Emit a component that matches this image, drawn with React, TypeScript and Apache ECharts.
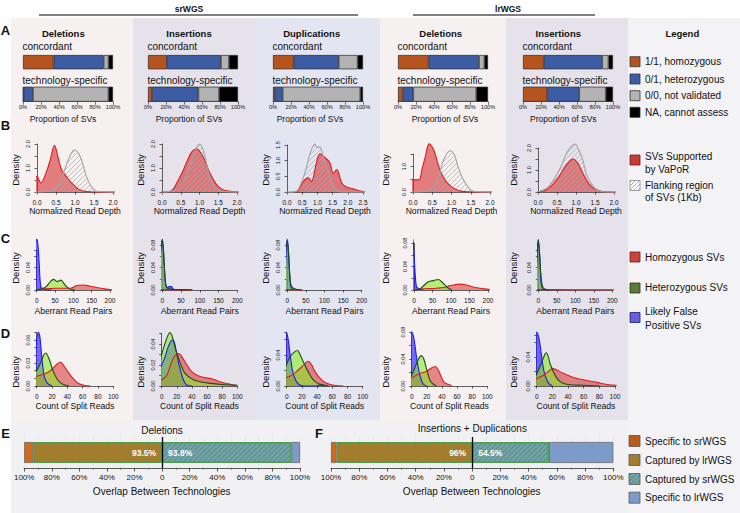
import React, { useEffect, useRef } from 'react';
import * as echarts from 'echarts';

const FONT = '"Liberation Sans", Arial, Helvetica, sans-serif';

// ---------------- Row A: genotype proportions (%) ----------------
const genotypeNames = ['1/1, homozygous', '0/1, heterozygous', '0/0, not validated', 'NA, cannot assess'];
const barCategories = ['concordant', 'technology-specific'];
const columnTitles = ['Deletions', 'Insertions', 'Duplications', 'Deletions', 'Insertions'];
const srDelConcordant = [34, 55.6, 5.4, 5];
const srDelSpecific = [0.5, 10.5, 84, 5];
const srInsConcordant = [21, 60, 9, 10];
const srInsSpecific = [4.4, 51.6, 23, 21];
const srDupConcordant = [23, 50, 21, 6];
const srDupSpecific = [2, 8.7, 86.3, 3];
const lrDelConcordant = [34, 56, 6, 4];
const lrDelSpecific = [5.5, 11.5, 70, 13];
const lrInsConcordant = [23, 65, 7, 5];
const lrInsSpecific = [27, 35.5, 29.5, 8];

// ---------------- Row B: normalized read depth densities ----------------
const bSrDelSupported = [[-0.1,0.2],[0,0.65],[0.1,0.38],[0.25,0.85],[0.35,1.35],[0.46,1.95],[0.56,1.4],[0.65,0.92],[0.78,0.63],[0.91,0.38],[1.09,0.12],[1.3,0.02],[1.6,0],[2.05,0]];
const bSrDelFlank = [[-0.1,0],[0.3,0.02],[0.5,0.15],[0.6,0.4],[0.7,0.8],[0.8,1.25],[0.9,1.6],[0.98,1.75],[1.1,1.6],[1.2,1.2],[1.3,0.65],[1.4,0.3],[1.5,0.1],[1.6,0.02],[2.05,0]];
const bSrInsSupported = [[-0.05,0],[0.2,0.02],[0.3,0.12],[0.39,0.36],[0.57,0.92],[0.7,1.4],[0.8,1.68],[0.92,1.8],[1.1,1.45],[1.28,0.78],[1.46,0.3],[1.6,0.12],[1.72,0.05],[2.05,0]];
const bSrInsFlank = [[-0.05,0],[0.3,0.05],[0.5,0.25],[0.7,0.9],[0.85,1.6],[1.0,2.0],[1.1,1.75],[1.2,1.1],[1.3,0.5],[1.4,0.2],[1.5,0.07],[1.65,0.02],[2.05,0]];
const bSrDupSupported = [[0.3,0],[0.37,0.03],[0.53,0.33],[0.7,0.45],[0.8,0.33],[0.97,0.93],[1.08,1.22],[1.25,1.1],[1.41,0.93],[1.52,0.6],[1.64,0.72],[1.8,0.29],[1.96,0.16],[2.17,0.1],[2.45,0.02],[2.6,0]];
const bSrDupFlank = [[-0.1,0],[0.3,0.02],[0.43,0.2],[0.6,0.65],[0.75,1.2],[0.92,1.53],[1.0,1.42],[1.08,1.44],[1.2,1.1],[1.3,0.8],[1.41,0.49],[1.52,0.2],[1.63,0.05],[1.8,0],[2.6,0]];
const bLrDelSupported = [[-0.07,0.48],[0.15,0.48],[0.23,0.87],[0.32,1.4],[0.42,1.9],[0.54,1.66],[0.67,1.0],[0.8,0.55],[0.97,0.24],[1.18,0.06],[1.4,0.01],[2.05,0]];
const bLrDelFlank = [[-0.07,0],[0.3,0.02],[0.5,0.15],[0.67,0.6],[0.75,1.08],[0.85,1.45],[0.97,1.63],[1.08,1.45],[1.18,0.95],[1.31,0.48],[1.48,0.1],[1.6,0.02],[2.05,0]];
const bLrInsSupported = [[-0.1,0],[0.07,0.02],[0.2,0.08],[0.33,0.24],[0.5,0.58],[0.75,1.23],[0.92,1.5],[1.05,1.3],[1.18,0.85],[1.36,0.32],[1.53,0.1],[1.7,0.02],[2.05,0]];
const bLrInsFlank = [[-0.1,0],[0.05,0.03],[0.25,0.2],[0.43,0.6],[0.6,1.15],[0.75,1.75],[0.84,2.0],[0.97,2.18],[1.08,1.9],[1.18,1.45],[1.3,0.7],[1.48,0.2],[1.65,0.02],[2.05,0]];

// ---------------- Row C: aberrant read pairs densities ----------------
const cSrDelHomo = [[-5,0],[0,0.001],[20,0.002],[50,0.003],[80,0.003],[95,0.0035],[109,0.008],[127,0.009],[145,0.0068],[164,0.0046],[186,0.002],[209,0]];
const cSrDelHet = [[-5,0],[8,0.001],[18,0.003],[26,0.006],[36,0.014],[46,0.019],[56,0.015],[66,0.0176],[77,0.009],[86,0.0034],[95,0.001],[104,0]];
const cSrDelFp = [[-10,0],[-8,0.03],[-5,0.07],[-2,0.088],[1,0.09],[4,0.075],[7,0.045],[9,0.02],[12,0.004],[16,0.003],[22,0.001],[40,0]];
const cSrInsHomo = [[-8,0],[0,0.001],[40,0.0005],[80,0]];
const cSrInsHet = [[-10,0],[-7,0.03],[-4,0.075],[0,0.09],[3,0.072],[6,0.035],[9,0.01],[14,0.003],[30,0.001],[78,0.0005],[80,0]];
const cSrInsFp = [[-10,0],[-7,0.03],[-4,0.07],[0,0.088],[3,0.07],[6,0.035],[9,0.01],[13,0.004],[18,0.006],[24,0.006],[28,0.003],[33,0]];
const cSrDupHomo = [[-8,0],[0,0.001],[20,0.0005],[40,0]];
const cSrDupHet = [[-10,0],[-7,0.03],[-4,0.072],[0,0.087],[3,0.07],[6,0.035],[9,0.012],[14,0.004],[25,0.001],[40,0]];
const cSrDupFp = [[-8,0],[-5,0.04],[-2,0.08],[0,0.09],[3,0.07],[6,0.03],[9,0.008],[14,0]];
const cLrDelHomo = [[-5,0],[10,0.001],[30,0.002],[60,0.003],[89,0.005],[93,0.007],[107,0.0085],[124,0.01],[142,0.0085],[160,0.005],[178,0.003],[201,0.001],[210,0]];
const cLrDelHet = [[5,0],[16,0.002],[25,0.0068],[39,0.014],[53,0.016],[66,0.018],[75,0.014],[89,0.005],[102,0]];
const cLrDelFp = [[-14,0],[-11,0.03],[-8,0.07],[-5,0.09],[-2,0.08],[1,0.05],[4,0.02],[7,0.005],[12,0.003],[16,0.002],[25,0]];
const cLrInsHomo = [[-8,0],[0,0.001],[100,0.0005],[210,0.0005]];
const cLrInsHet = [[-10,0],[-6,0.03],[-3,0.075],[0,0.09],[3,0.07],[6,0.035],[10,0.01],[14,0.003],[20,0.001],[30,0]];
const cLrInsFp = [[-8,0],[-4,0.05],[0,0.085],[3,0.07],[6,0.03],[10,0.005],[20,0.001],[30,0]];

// ---------------- Row D: split read count densities ----------------
const dSrDelHomo = [[-5,0.012],[5,0.014],[15,0.018],[22,0.024],[27,0.029],[31,0.031],[35,0.027],[39,0.021],[45.6,0.012],[54,0.0035],[62,0.001],[70,0]];
const dSrDelHet = [[-5,0.014],[0,0.02],[5,0.03],[9,0.04],[12,0.043],[15,0.038],[17.4,0.032],[21.7,0.019],[26,0.01],[30,0.005],[35,0.002],[42,0]];
const dSrDelFp = [[-5,0.01],[-2,0.04],[0,0.06],[2,0.07],[4,0.065],[6,0.045],[8,0.025],[10,0.012],[13,0.005],[16,0.002],[20,0]];
const dSrInsHomo = [[-8,0.003],[0,0.006],[6.6,0.01],[15,0.026],[22,0.031],[30.8,0.023],[39.7,0.0136],[50.7,0.009],[68,0.0065],[77,0.004],[95,0.001],[100,0]];
const dSrInsHet = [[-8,0.012],[-3,0.02],[0,0.03],[5,0.042],[11,0.051],[14,0.047],[17.6,0.037],[24,0.023],[30.8,0.012],[42,0.006],[60,0.003],[80,0.0015],[100,0.001]];
const dSrInsFp = [[-8,0.01],[-2,0.017],[4,0.027],[9,0.038],[14.5,0.044],[17,0.041],[20,0.03],[24,0.017],[28.6,0.006],[33,0.001],[40,0]];
const dSrDupHomo = [[-6,0.01],[5,0.013],[12,0.018],[20,0.025],[28.5,0.032],[33,0.027],[37,0.019],[44,0.01],[52.6,0.0035],[62,0.001],[74.5,0]];
const dSrDupHet = [[-6,0.012],[-2,0.023],[4.4,0.038],[10,0.044],[14,0.046],[18,0.04],[22,0.031],[28.5,0.018],[35,0.008],[42,0.003],[50,0.001],[55,0]];
const dSrDupFp = [[-6,0.01],[-4,0.035],[-2,0.06],[0,0.069],[2,0.06],[4,0.045],[6,0.03],[8,0.018],[12,0.007],[16,0.002],[22,0],[38,0],[44,0.0015],[50,0]];
const dLrDelHomo = [[-5,0.008],[0,0.012],[10,0.018],[20,0.022],[25,0.026],[31,0.029],[35,0.024],[40,0.011],[42,0.0065],[47,0.003],[50.7,0.0015],[53,0]];
const dLrDelHet = [[-5,0.008],[-2,0.012],[1.3,0.019],[6,0.032],[10,0.042],[13,0.045],[16,0.04],[20,0.024],[24,0.009],[28,0.003],[33,0]];
const dLrDelFp = [[-5,0.02],[-3,0.06],[0,0.08],[3,0.07],[6.6,0.041],[10,0.02],[13,0.008],[16,0.002],[20,0]];
const dLrInsHomo = [[-6,0.006],[0,0.01],[10,0.016],[16,0.021],[20.4,0.024],[26,0.022],[34,0.0175],[51,0.0106],[76.6,0.005],[90,0.002],[102,0.001]];
const dLrInsHet = [[-6,0.008],[-2,0.012],[4.3,0.027],[9,0.04],[12,0.046],[15,0.04],[17,0.031],[23.4,0.015],[29.8,0.006],[40,0.002],[60,0.001],[80,0]];
const dLrInsFp = [[-6,0.03],[-4.3,0.047],[-2,0.065],[0,0.074],[2,0.07],[4.3,0.057],[7.7,0.03],[10.6,0.015],[15,0.004],[20,0]];

// ---------------- Rows E/F: overlap between technologies (%) ----------------
const overlapNames = ['Specific to srWGS', 'Captured by lrWGS', 'Captured by srWGS', 'Specific to lrWGS'];
const deletionOverlap = [6.5, 93.5, 93.8, 6.2];
const insDupOverlap = [4, 96, 54.5, 45.5];

// ---------------- styles ----------------
const genotypeColors = ['#b5541f', '#3c5ca3', '#b3b3b3', '#000000'];
const curveStyles: any = {
  sv: { line: '#e01b1b', area: 'rgba(212,30,30,0.55)' },
  homo: { line: '#e01b1b', area: 'rgba(212,30,30,0.5)' },
  het: { line: '#1f4d10', area: 'rgba(140,235,40,0.6)' },
  fp: { line: '#1a1aff', area: 'rgba(40,20,255,0.62)' },
};

function hatch(bg: string | null, stripe: string, size: number, lw: number) {
  const c = document.createElement('canvas');
  c.width = size; c.height = size;
  const g = c.getContext('2d')!;
  if (bg) { g.fillStyle = bg; g.fillRect(0, 0, size, size); }
  g.strokeStyle = stripe; g.lineWidth = lw; g.lineCap = 'square';
  g.beginPath();
  g.moveTo(0, size); g.lineTo(size, 0);
  g.moveTo(-size / 2, size / 2); g.lineTo(size / 2, -size / 2);
  g.moveTo(size / 2, size * 1.5); g.lineTo(size * 1.5, size / 2);
  g.stroke();
  return { image: c, repeat: 'repeat', imageWidth: size, imageHeight: size };
}

function buildOption() {
  const grid: any[] = [], xAxis: any[] = [], yAxis: any[] = [], series: any[] = [], graphic: any[] = [];
  const addGrid = (g: any, xa: any, ya: any) => {
    const i = grid.length;
    grid.push(g);
    xAxis.push({ ...xa, gridIndex: i });
    yAxis.push({ ...ya, gridIndex: i });
    return i;
  };
  const txt = (text: string, x: number, y: number, size: number, o: any = {}) => graphic.push({
    type: 'text', x, y, z: 100, silent: true, rotation: o.rotation || 0,
    style: { text, fontSize: size, fontFamily: FONT, fontWeight: o.bold ? 'bold' : 'normal', fill: o.color || '#111', align: o.align || 'center', verticalAlign: 'middle' },
  });
  const rect = (x: number, y: number, w: number, h: number, fill: any, stroke?: string, z = -100) => graphic.push({
    type: 'rect', z, silent: true, shape: { x, y, width: w, height: h }, style: { fill, stroke: stroke || 'none', lineWidth: stroke ? 0.8 : 0 },
  });
  const line = (x1: number, y1: number, x2: number, y2: number) => graphic.push({
    type: 'line', z: 100, silent: true, shape: { x1, y1, x2, y2 }, style: { stroke: '#000', lineWidth: 1 },
  });

  const flankPattern = hatch(null, '#a9a9a9', 5, 0.7);
  const lrCapturedPattern = hatch('#d2691e', '#54a046', 5, 1.3);
  const srCapturedPattern = hatch('#7b9bc8', '#54a05a', 5, 1.3);
  const flankLegendPattern = hatch('#ffffff', '#9a9a9a', 4, 0.8);

  // ---- backgrounds ----
  rect(11, 18, 122, 402, '#f6f0f1');
  rect(133, 18, 123, 402, '#e5e2ec');
  rect(256, 18, 124, 402, '#e3e5f1');
  rect(380, 18, 126, 402, '#f6f0f1');
  rect(506, 18, 122, 402, '#e5e2ec');
  rect(628, 18, 112, 495, '#f3f3f6');
  rect(11, 420, 617, 93, '#f1f1f3');

  // ---- header ----
  txt('srWGS', 189, 8.5, 8.5, { bold: true });
  line(39, 15, 358, 15);
  txt('lrWGS', 508, 8.5, 8.5, { bold: true });
  line(413, 15, 595, 15);
  const titleX = [63.3, 189, 311.7, 440.7, 558.3];
  columnTitles.forEach((t, i) => txt(t, titleX[i], 33.3, 9.5, { bold: true }));
  txt('Legend', 682.3, 33.3, 9.5, { bold: true });
  [['A', 30], ['B', 125], ['C', 238], ['D', 333], ['E', 433]].forEach(([l, y]) => txt(l as string, 5.5, y as number, 13, { bold: true }));
  txt('F', 319, 433, 13, { bold: true });

  // ---- Row A ----
  const aSets = [
    [srDelConcordant, srDelSpecific], [srInsConcordant, srInsSpecific], [srDupConcordant, srDupSpecific],
    [lrDelConcordant, lrDelSpecific], [lrInsConcordant, lrInsSpecific],
  ];
  const barLeft = [23, 148, 273, 398, 523];
  const propTitleX = [63, 189, 310, 445, 563.3];
  aSets.forEach((set, ci) => {
    set.forEach((vals, bi) => {
      const top = bi === 0 ? 55 : 86.7;
      const h = bi === 0 ? 14.3 : 15;
      const gi = addGrid(
        { left: barLeft[ci], top, width: 90, height: h },
        {
          type: 'value', min: 0, max: 100, interval: 20, show: bi === 1,
          axisLine: { show: true, lineStyle: { color: '#222', width: 0.6 } },
          axisTick: { show: true, length: 3, lineStyle: { color: '#222', width: 0.6 } },
          axisLabel: { fontSize: 5.6, fontFamily: FONT, color: '#111', margin: 2, formatter: (v: number) => `${v}%`, showMinLabel: true, showMaxLabel: true, hideOverlap: false },
          splitLine: { show: false },
        },
        { type: 'category', data: [barCategories[bi]], show: false },
      );
      vals.forEach((v, k) => series.push({
        type: 'bar', name: genotypeNames[k], xAxisIndex: gi, yAxisIndex: gi, stack: `a${ci}${bi}`,
        barWidth: '100%', data: [v],
        itemStyle: { color: genotypeColors[k], borderColor: '#2a2a2a', borderWidth: 0.7 },
        silent: true,
      }));
      txt(barCategories[bi], barLeft[ci] - 0.5, bi === 0 ? 46.7 : 80, 10, { align: 'left' });
    });
    txt('Proportion of SVs', propTitleX[ci], 119.3, 8.5);
  });

  // ---- Rows B, C, D ----
  const densityX = [15, 140, 265, 385, 513];
  const plots: any[] = [
    // row B
    { row: 0, left: 37, width: 76, base: 192, height: 48, xMax: 2, xInt: 0.5, xDig: 1, yMax: 2, yInt: 0.5, yDig: 1, yShow: [0, 1, 2], curves: [[bSrDelSupported, 'sv'], [bSrDelFlank, 'flank']] },
    { row: 0, left: 162, width: 75, base: 192, height: 48, xMax: 2, xInt: 0.5, xDig: 1, yMax: 2, yInt: 0.5, yDig: 1, yShow: [0, 1, 2], curves: [[bSrInsSupported, 'sv'], [bSrInsFlank, 'flank']] },
    { row: 0, left: 287, width: 76, base: 192, height: 47, xMax: 2.5, xInt: 0.5, xDig: 1, yMax: 1.5, yInt: 0.5, yDig: 1, yShow: [0, 0.5, 1, 1.5], curves: [[bSrDupSupported, 'sv'], [bSrDupFlank, 'flank']] },
    { row: 0, left: 413, width: 77, base: 192, height: 38, xMax: 2, xInt: 0.5, xDig: 1, yMax: 1.5, yInt: 0.5, yDig: 1, yShow: [0, 1], curves: [[bLrDelSupported, 'sv'], [bLrDelFlank, 'flank']] },
    { row: 0, left: 538, width: 76, base: 192, height: 44, xMax: 2, xInt: 0.5, xDig: 1, yMax: 2, yInt: 0.5, yDig: 1, yShow: [0, 1, 2], curves: [[bLrInsSupported, 'sv'], [bLrInsFlank, 'flank']] },
    // row C
    { row: 1, left: 36.7, width: 73.3, base: 290, height: 39.3, xMax: 200, xInt: 50, xDig: 0, yMax: 0.07, yInt: 0.02, yDig: 2, yShow: [0, 0.04], curves: [[cSrDelFp, 'fp'], [cSrDelHomo, 'homo'], [cSrDelHet, 'het']] },
    { row: 1, left: 162.3, width: 75, base: 290, height: 45, xMax: 200, xInt: 50, xDig: 0, yMax: 0.08, yInt: 0.02, yDig: 2, yShow: [0, 0.04, 0.08], curves: [[cSrInsFp, 'fp'], [cSrInsHomo, 'homo'], [cSrInsHet, 'het']] },
    { row: 1, left: 287.3, width: 74.4, base: 290, height: 45, xMax: 200, xInt: 50, xDig: 0, yMax: 0.08, yInt: 0.02, yDig: 2, yShow: [0, 0.04, 0.08], curves: [[cSrDupFp, 'fp'], [cSrDupHomo, 'homo'], [cSrDupHet, 'het']] },
    { row: 1, left: 414, width: 74, base: 290, height: 47, xMax: 200, xInt: 50, xDig: 0, yMax: 0.08, yInt: 0.02, yDig: 2, yShow: [0, 0.04, 0.08], curves: [[cLrDelFp, 'fp'], [cLrDelHomo, 'homo'], [cLrDelHet, 'het']] },
    { row: 1, left: 538.3, width: 74, base: 290, height: 39.3, xMax: 200, xInt: 50, xDig: 0, yMax: 0.07, yInt: 0.02, yDig: 2, yShow: [0, 0.04], curves: [[cLrInsFp, 'fp'], [cLrInsHomo, 'homo'], [cLrInsHet, 'het']] },
    // row D
    { row: 2, left: 36.7, width: 76.6, base: 386, height: 53.7, xMax: 100, xInt: 20, xDig: 0, yMax: 0.07, yInt: 0.01, yDig: 2, yShow: [0, 0.03, 0.06], curves: [[dSrDelFp, 'fp'], [dSrDelHomo, 'homo'], [dSrDelHet, 'het']] },
    { row: 2, left: 161.7, width: 75.6, base: 386, height: 52.5, xMax: 100, xInt: 20, xDig: 0, yMax: 0.05, yInt: 0.01, yDig: 2, yShow: [0, 0.02, 0.04], curves: [[dSrInsFp, 'fp'], [dSrInsHomo, 'homo'], [dSrInsHet, 'het']] },
    { row: 2, left: 286.7, width: 76, base: 386, height: 54, xMax: 100, xInt: 20, xDig: 0, yMax: 0.07, yInt: 0.02, yDig: 2, yShow: [0, 0.04], curves: [[dSrDupFp, 'fp'], [dSrDupHomo, 'homo'], [dSrDupHet, 'het']] },
    { row: 2, left: 411.7, width: 75.6, base: 386, height: 54, xMax: 100, xInt: 20, xDig: 0, yMax: 0.08, yInt: 0.02, yDig: 2, yShow: [0, 0.04, 0.08], curves: [[dLrDelFp, 'fp'], [dLrDelHomo, 'homo'], [dLrDelHet, 'het']] },
    { row: 2, left: 536.7, width: 78.3, base: 386, height: 50.7, xMax: 100, xInt: 20, xDig: 0, yMax: 0.07, yInt: 0.02, yDig: 2, yShow: [0, 0.04], curves: [[dLrInsFp, 'fp'], [dLrInsHomo, 'homo'], [dLrInsHet, 'het']] },
  ];
  const rowTitles = ['Normalized Read Depth', 'Aberrant Read Pairs', 'Count of Split Reads'];
  const rowTitleY = [211, 311.3, 406];
  const rowDensityY = [170, 268, 372];
  const rowXOffset = [5, 5, 4.5];
  const near = (list: number[], v: number) => list.some((l) => Math.abs(l - v) < 1e-7);

  plots.forEach((p, pi) => {
    const col = pi % 5;
    const xTicks: number[] = [];
    for (let k = 0; k <= p.xMax / p.xInt + 1e-9; k++) xTicks.push(k * p.xInt);
    const gi = addGrid(
      { left: p.left, top: p.base - p.height, width: p.width, height: p.height },
      {
        type: 'value', min: 0, max: p.xMax, interval: p.xInt, offset: rowXOffset[p.row],
        axisLine: { show: true, lineStyle: { color: '#222', width: 0.7 } },
        axisTick: { show: true, length: 2.5, lineStyle: { color: '#222', width: 0.7 } },
        axisLabel: { fontSize: 6.5, fontFamily: FONT, color: '#111', margin: 2, showMinLabel: true, showMaxLabel: true, hideOverlap: false,
          formatter: (v: number) => (near(xTicks, v) ? v.toFixed(p.xDig) : '') },
        splitLine: { show: false },
      },
      {
        type: 'value', min: 0, max: p.yMax, interval: p.yInt, offset: 3.5,
        axisLine: { show: true, lineStyle: { color: '#222', width: 0.7 } },
        axisTick: { show: true, length: 2.5, lineStyle: { color: '#222', width: 0.7 } },
        axisLabel: { fontSize: 5.6, fontFamily: FONT, color: '#111', margin: 2.5, rotate: 90, showMinLabel: true, showMaxLabel: true, hideOverlap: false,
          formatter: (v: number) => (near(p.yShow, v) ? v.toFixed(p.yDig) : '') },
        splitLine: { show: false },
      },
    );
    p.curves.forEach(([data, kind]: any) => {
      const isFlank = kind === 'flank';
      const st = curveStyles[kind];
      series.push({
        type: 'line', xAxisIndex: gi, yAxisIndex: gi, data, smooth: 0.35, showSymbol: false, symbol: 'none', clip: false, silent: true,
        lineStyle: { color: isFlank ? '#a3a3a3' : st.line, width: 1.1 },
        areaStyle: { color: isFlank ? flankPattern : st.area, opacity: 1 },
        z: 2,
      });
    });
    txt(rowTitles[p.row], p.left + p.width / 2, rowTitleY[p.row], 8.6);
    txt('Density', densityX[col], rowDensityY[p.row], 9.5, { rotation: Math.PI / 2 });
  });

  // ---- Rows E / F ----
  const overlapSets = [
    { data: deletionOverlap, left: 24.2, width: 275.8, title: 'Deletions', titleX: 162, titleY: 430.5, center: 161.7 },
    { data: insDupOverlap, left: 331, width: 282.3, title: 'Insertions + Duplications', titleX: 472.3, titleY: 428.5, center: 471.7 },
  ];
  overlapSets.forEach((o, oi) => {
    const gi = addGrid(
      { left: o.left, top: 437, width: o.width, height: 31 },
      {
        type: 'value', min: -100, max: 100, interval: 20,
        axisLine: { show: true, lineStyle: { color: '#333', width: 0.8 } },
        axisTick: { show: true, length: 3.5, lineStyle: { color: '#333', width: 0.8 } },
        minorTick: { show: true, splitNumber: 2, length: 2, lineStyle: { color: '#555', width: 0.6 } },
        axisLabel: { fontSize: 8, fontFamily: FONT, color: '#111', margin: 5, showMinLabel: true, showMaxLabel: true, hideOverlap: false,
          formatter: (v: number) => (Math.abs(v) < 1e-9 ? '0' : `${Math.abs(v)}%`) },
        splitLine: { show: true, lineStyle: { color: '#dcdcdc', width: 0.6, type: 'dashed' } },
        minorSplitLine: { show: true, lineStyle: { color: '#dcdcdc', width: 0.6, type: 'dashed' } },
      },
      { type: 'category', data: ['overlap'], show: false },
    );
    const [srSpec, lrCap, srCap, lrSpec] = o.data;
    const lbl = (pos: string) => ({
      show: true, position: pos, distance: 6, color: '#fff', fontWeight: 'bold', fontSize: 8.5, fontFamily: FONT,
      formatter: (pp: any) => `${Math.abs(pp.value)}%`,
    });
    series.push({
      type: 'bar', name: overlapNames[1], xAxisIndex: gi, yAxisIndex: gi, stack: `ov${oi}`, barWidth: 21, silent: true,
      data: [-lrCap], itemStyle: { color: lrCapturedPattern, borderColor: '#4f9d4f', borderWidth: 1.4 }, label: lbl('insideRight'),
      markLine: { silent: true, symbol: 'none', label: { show: false }, lineStyle: { color: '#000', width: 1.3, type: 'solid' }, data: [{ xAxis: 0 }] },
      z: 3,
    });
    series.push({
      type: 'bar', name: overlapNames[0], xAxisIndex: gi, yAxisIndex: gi, stack: `ov${oi}`, barWidth: 21, silent: true,
      data: [-srSpec], itemStyle: { color: '#d06a1f', borderColor: '#666', borderWidth: 0.8 },
    });
    series.push({
      type: 'bar', name: overlapNames[2], xAxisIndex: gi, yAxisIndex: gi, stack: `ov${oi}`, barWidth: 21, silent: true,
      data: [srCap], itemStyle: { color: srCapturedPattern, borderColor: '#4f9d4f', borderWidth: 1.4 }, label: lbl('insideLeft'),
    });
    series.push({
      type: 'bar', name: overlapNames[3], xAxisIndex: gi, yAxisIndex: gi, stack: `ov${oi}`, barWidth: 21, silent: true,
      data: [lrSpec], itemStyle: { color: '#7d9bca', borderColor: '#666', borderWidth: 0.8 },
    });
    txt(o.title, o.titleX, o.titleY, 10);
    txt('Overlap Between Technologies', o.center, 491, 10);
  });

  // ---- Legends ----
  const legX = 630;
  const aLegY = [61.7, 79, 95.7, 112.3];
  genotypeNames.forEach((n, k) => {
    rect(legX, aLegY[k] - 5, 10, 10, genotypeColors[k], '#333', 50);
    txt(n, 645, aLegY[k], 10, { align: 'left' });
  });
  rect(legX, 155, 10, 10, '#c43c32', '#7a1a1a', 50);
  txt('SVs Supported', 645, 156.7, 10, { align: 'left' });
  txt('by VaPoR', 645, 169, 10, { align: 'left' });
  rect(legX, 180.5, 10, 10, flankLegendPattern, '#888', 50);
  txt('Flanking region', 645, 185, 10, { align: 'left' });
  txt('of SVs (1Kb)', 645, 197.3, 10, { align: 'left' });
  rect(legX, 252, 10, 10, '#c8473c', '#7a1a1a', 50);
  txt('Homozygous SVs', 645, 257.5, 10, { align: 'left' });
  rect(legX, 283, 10, 10, '#5b7a3c', '#1f3a10', 50);
  txt('Heterozygous SVs', 645, 287.7, 10, { align: 'left' });
  rect(legX, 312.5, 10, 10, '#6a5fd8', '#1a1a80', 50);
  txt('Likely False', 645, 311.7, 10, { align: 'left' });
  txt('Positive SVs', 645, 325, 10, { align: 'left' });
  const eLegY = [441, 460, 479, 497.7];
  const eLegFill = ['#b85d1c', lrCapturedPattern, srCapturedPattern, '#7d9bca'];
  overlapNames.forEach((n, k) => {
    rect(legX - 1, eLegY[k] - 5.5, 11, 11, eLegFill[k], '#555', 50);
    txt(n, 645, eLegY[k], 10, { align: 'left' });
  });

  return { animation: false, backgroundColor: '#ffffff', grid, xAxis, yAxis, series, graphic: { elements: graphic } };
}

export default function App() {
  const ref = useRef<HTMLDivElement>(null);
  useEffect(() => {
    document.body.style.margin = '0';
    const chart = echarts.init(ref.current!, null, { renderer: 'svg' });
    chart.setOption(buildOption() as any);
    return () => chart.dispose();
  }, []);
  return <div ref={ref} style={{ width: 740, height: 513 }} />;
}
